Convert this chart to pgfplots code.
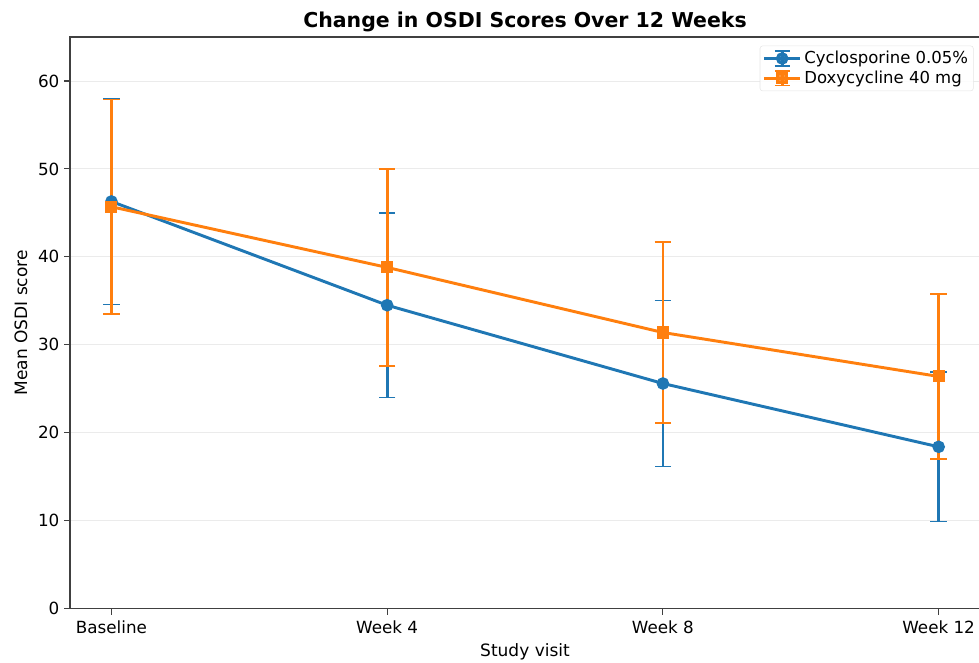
\documentclass[border=0pt]{standalone}
\usepackage{fontspec}
\setmainfont{DejaVu Sans}
\usepackage{pgfplots}
\pgfplotsset{compat=1.18}
\definecolor{mblue}{HTML}{1F77B4}
\definecolor{morange}{HTML}{FF7F0E}
\begin{document}
\begin{tikzpicture}
\begin{axis}[
  /pgf/number format/assume math mode=true,
  scale only axis,
  width=681.75bp, height=428.25bp,
  xmin=-0.15, xmax=3.15, ymin=0, ymax=65,
  xtick={0,1,2,3}, xticklabels={Baseline,Week 4,Week 8,Week 12},
  ytick={0,10,20,30,40,50,60},
  tick align=outside, tick pos=left,
  major tick length=4.5bp,
  tick style={black!75, line width=0.8bp},
  axis line style={black!75, line width=0.9bp},
  ymajorgrids, grid style={black!8, line width=0.7bp},
  tick label style={font=\fontsize{12.6}{14}\selectfont},
  xticklabel style={yshift=-1bp},
  xlabel={Study visit}, ylabel={Mean OSDI score},
  label style={font=\fontsize{12.8}{14}\selectfont},
  xlabel style={at={(axis description cs:0.5,-0.075)}, anchor=center},
  ylabel style={at={(axis description cs:-0.054,0.5)}, anchor=center},
  every axis title/.style={at={(axis description cs:0.5,1)}, anchor=base, yshift=7.5bp, font=\fontsize{15.4}{17}\selectfont},
  title={\textbf{Change in OSDI Scores Over 12 Weeks}},
  legend style={draw=black!10, fill=white, fill opacity=0.85, text opacity=1, font=\fontsize{12.4}{14}\selectfont, row sep=0bp, inner sep=2bp, at={(0.993,0.985)}, anchor=north east, rounded corners=2bp},
  legend cell align=left,
  legend image code/.code={
    \draw[#1, mark=none] (0bp,0bp)--(27bp,0bp);
    \draw[#1, mark=none, line width=2bp] (13.5bp,-5.5bp)--(13.5bp,5.5bp);
    \draw[#1, mark=none, line width=1.1bp] (8bp,5.5bp)--(19bp,5.5bp) (8bp,-5.5bp)--(19bp,-5.5bp);
    \draw[#1, only marks] plot coordinates {(13.5bp,0bp)};
  },
  clip=false,
]
\addplot[mblue, line width=2.2bp, mark=*, mark size=3.6bp, mark options={solid},
  error bars/.cd, y dir=both, y explicit,
  error bar style={line width=2bp, mblue},
  error mark options={rotate=90, mark size=6.2bp, line width=1.1bp, mblue}]
  table[x=x, y=y, y error=e] {
  x y e
  0 46.3 11.7
  1 34.5 10.5
  2 25.6 9.45
  3 18.4 8.5
  };
\addlegendentry{Cyclosporine 0.05\%}
\addplot[morange, line width=2.2bp, mark=square*, mark size=3.4bp, mark options={solid},
  error bars/.cd, y dir=both, y explicit,
  error bar style={line width=2bp, morange},
  error mark options={rotate=90, mark size=6.2bp, line width=1.1bp, morange}]
  table[x=x, y=y, y error=e] {
  x y e
  0 45.7 12.2
  1 38.8 11.2
  2 31.4 10.3
  3 26.4 9.4
  };
\addlegendentry{Doxycycline 40 mg}
\end{axis}
\pgfresetboundingbox
\path ([shift={(-52.5bp,-40.5bp)}]current axis.south west) rectangle ([shift={(-0.75bp,27.75bp)}]current axis.north east);
\end{tikzpicture}
\end{document}
